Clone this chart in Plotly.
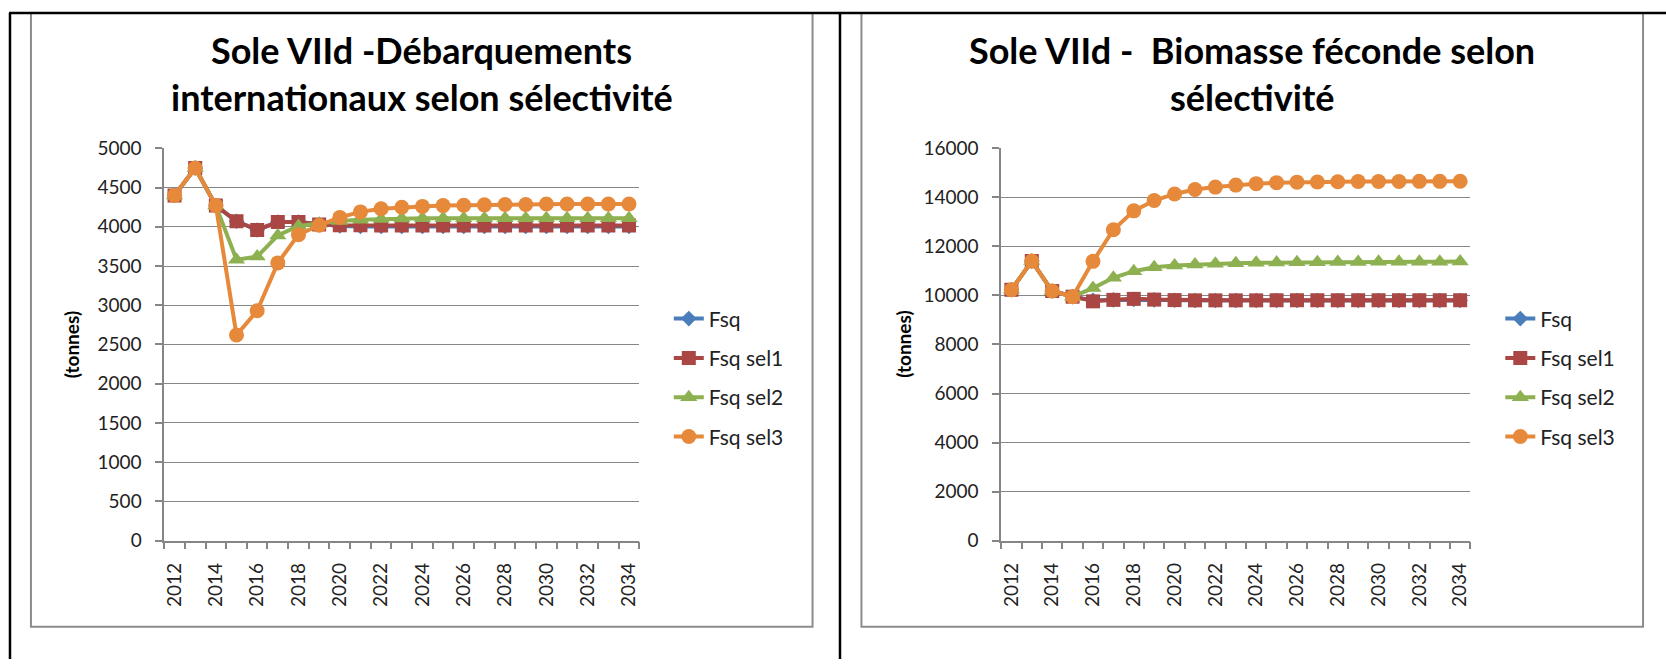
import plotly.graph_objects as go

# ---------------- data ----------------
years = list(range(2012, 2035))
tick_years = list(range(2012, 2035, 2))
tick_text = [str(y) for y in tick_years]
series_names = ["Fsq", "Fsq sel1", "Fsq sel2", "Fsq sel3"]

# Left chart: international landings (tonnes)
land_fsq = [4400, 4750, 4270, 4070, 3960, 4060, 4060, 4030, 4010, 4005, 4005, 4005, 4005, 4005,
            4005, 4005, 4005, 4005, 4005, 4005, 4005, 4005, 4005]
land_sel1 = [4400, 4750, 4270, 4070, 3960, 4060, 4060, 4030, 4020, 4020, 4015, 4015, 4015, 4015,
             4015, 4015, 4015, 4015, 4015, 4015, 4015, 4015, 4015]
land_sel2 = [4400, 4750, 4270, 3580, 3620, 3890, 4010, 4040, 4075, 4090, 4100, 4105, 4108, 4110,
             4110, 4110, 4110, 4110, 4110, 4110, 4110, 4110, 4110]
land_sel3 = [4400, 4750, 4270, 2620, 2930, 3540, 3900, 4020, 4120, 4190, 4230, 4250, 4260, 4270,
             4275, 4280, 4285, 4285, 4290, 4290, 4290, 4290, 4290]

# Right chart: spawning stock biomass (tonnes)
ssb_fsq = [10230, 11400, 10180, 9950, 9800, 9820, 9840, 9820, 9805, 9795, 9795, 9795, 9795, 9795,
           9795, 9795, 9795, 9795, 9795, 9795, 9795, 9795, 9795]
ssb_sel1 = [10230, 11400, 10180, 9950, 9760, 9820, 9860, 9830, 9810, 9800, 9800, 9800, 9800, 9800,
            9800, 9800, 9800, 9800, 9800, 9800, 9800, 9800, 9800]
ssb_sel2 = [10230, 11400, 10180, 9950, 10300, 10720, 10990, 11150, 11220, 11260, 11290, 11310, 11330,
            11340, 11350, 11355, 11360, 11365, 11370, 11370, 11375, 11375, 11380]
ssb_sel3 = [10230, 11400, 10180, 9950, 11390, 12680, 13450, 13870, 14140, 14320, 14420, 14500, 14560,
            14600, 14620, 14630, 14640, 14645, 14650, 14650, 14655, 14655, 14660]

left_title = ["Sole VIId -Débarquements", "internationaux selon sélectivité"]
right_title = ["Sole VIId -  Biomasse féconde selon", "sélectivité"]
y_title = "(tonnes)"

# ---------------- styling ----------------
W, H = 1666, 670
FONT = "Lato, 'Open Sans', sans-serif"
colors = ["#4A7EBB", "#AA4643", "#8DB050", "#E6893B"]
symbols = ["diamond", "square", "triangle-up", "circle"]
msizes = [12, 14, 15, 15]
GRID = "#868686"

# vertical calibration of the photographed page (observed offset / scale)
V_OFF, V_SCALE = 12.75, 0.965


def px(x):
    return x / W


def py(y, clamp=False):
    p = (y - V_OFF) / V_SCALE
    if clamp:
        p = min(max(p, 1.0), H - 1.0)
    return 1 - p / H


fig = go.Figure()

left_data = [land_fsq, land_sel1, land_sel2, land_sel3]
right_data = [ssb_fsq, ssb_sel1, ssb_sel2, ssb_sel3]

for i, name in enumerate(series_names):
    fig.add_trace(go.Scatter(
        x=years, y=left_data[i], name=name, mode="lines+markers",
        line=dict(color=colors[i], width=4),
        marker=dict(symbol=symbols[i], size=msizes[i], color=colors[i], line=dict(width=0)),
        xaxis="x", yaxis="y", legend="legend", legendgroup="L%d" % i,
    ))
for i, name in enumerate(series_names):
    fig.add_trace(go.Scatter(
        x=years, y=right_data[i], name=name, mode="lines+markers",
        line=dict(color=colors[i], width=4),
        marker=dict(symbol=symbols[i], size=msizes[i], color=colors[i], line=dict(width=0)),
        xaxis="x2", yaxis="y2", legend="legend2", legendgroup="R%d" % i,
    ))

ydom = [py(541), py(149)]
TICKFONT = dict(family=FONT, size=19, color="#222222")


def xaxis_cfg(dom, anchor):
    return dict(
        domain=dom, anchor=anchor, range=[2011.5, 2034.5],
        tickmode="array", tickvals=tick_years, ticktext=tick_text, tickangle=-90,
        ticks="", showgrid=False, zeroline=False,
        showline=True, linecolor=GRID, linewidth=1.5,
        tickfont=TICKFONT,
        ticklabelstandoff=13,
        minor=dict(tickmode="linear", tick0=2011.5, dtick=1, ticks="outside",
                   ticklen=7, tickcolor=GRID, tickwidth=1.5, showgrid=False),
    )


def yaxis_cfg(anchor, rng, dtick):
    return dict(
        domain=ydom, anchor=anchor, range=rng, dtick=dtick, tick0=0, tickformat="d",
        showgrid=True, gridcolor=GRID, gridwidth=1.2, zeroline=False,
        showline=True, linecolor=GRID, linewidth=1.5,
        ticks="outside", ticklen=7, tickcolor=GRID, tickwidth=1.5,
        tickfont=TICKFONT,
        ticklabelstandoff=10,
    )


legend_common = dict(
    xanchor="left", yanchor="top", font=dict(family=FONT, size=21, color="#222222"),
    tracegroupgap=9, bgcolor="rgba(0,0,0,0)", borderwidth=0,
)

shapes = [
    # chart boxes (grey)
    dict(type="rect", xref="paper", yref="paper", x0=px(28), x1=px(811), y0=py(627), y1=py(9, True),
         line=dict(color="#8C8C8C", width=2), layer="below"),
    dict(type="rect", xref="paper", yref="paper", x0=px(860), x1=px(1643), y0=py(627), y1=py(9, True),
         line=dict(color="#8C8C8C", width=2), layer="below"),
    # table lines (black)
    dict(type="line", xref="paper", yref="paper", x0=px(6), x1=1, y0=py(7, True), y1=py(7, True),
         line=dict(color="#000000", width=2.5)),
    dict(type="line", xref="paper", yref="paper", x0=px(7), x1=px(7), y0=0, y1=py(7, True),
         line=dict(color="#000000", width=2.5)),
    dict(type="line", xref="paper", yref="paper", x0=px(838.5), x1=px(838.5), y0=0, y1=py(7, True),
         line=dict(color="#000000", width=2.5)),
]

annotations = []
for cx, lines in [(419.5, left_title), (1251.5, right_title)]:
    for ly, txt in zip([51, 98], lines):
        annotations.append(dict(
            text="<b>%s</b>" % txt, x=px(cx), y=py(ly), xref="paper", yref="paper",
            xanchor="center", yanchor="middle", showarrow=False,
            font=dict(family=FONT, size=36, color="#000000"),
        ))
for cx in [69, 902]:
    annotations.append(dict(
        text="<b>%s</b>" % y_title, x=px(cx), y=py(345), xref="paper", yref="paper",
        xanchor="center", yanchor="middle", showarrow=False, textangle=-90,
        font=dict(family=FONT, size=19, color="#000000"),
    ))

fig.update_layout(
    width=W, height=H, margin=dict(l=0, r=0, t=0, b=0),
    paper_bgcolor="#FFFFFF", plot_bgcolor="#FFFFFF",
    xaxis=xaxis_cfg([px(161.5), px(637.5)], "y"),
    yaxis=yaxis_cfg("x", [0, 5000], 500),
    xaxis2=xaxis_cfg([px(1000), px(1470)], "y2"),
    yaxis2=yaxis_cfg("x2", [0, 16000], 2000),
    legend=dict(x=px(667), y=py(299), **legend_common),
    legend2=dict(x=px(1500), y=py(299), **legend_common),
    shapes=shapes, annotations=annotations,
    showlegend=True,
)

fig.write_html("out.html", config={"displayModeBar": False},
               post_script="document.body.style.margin='0px';")
